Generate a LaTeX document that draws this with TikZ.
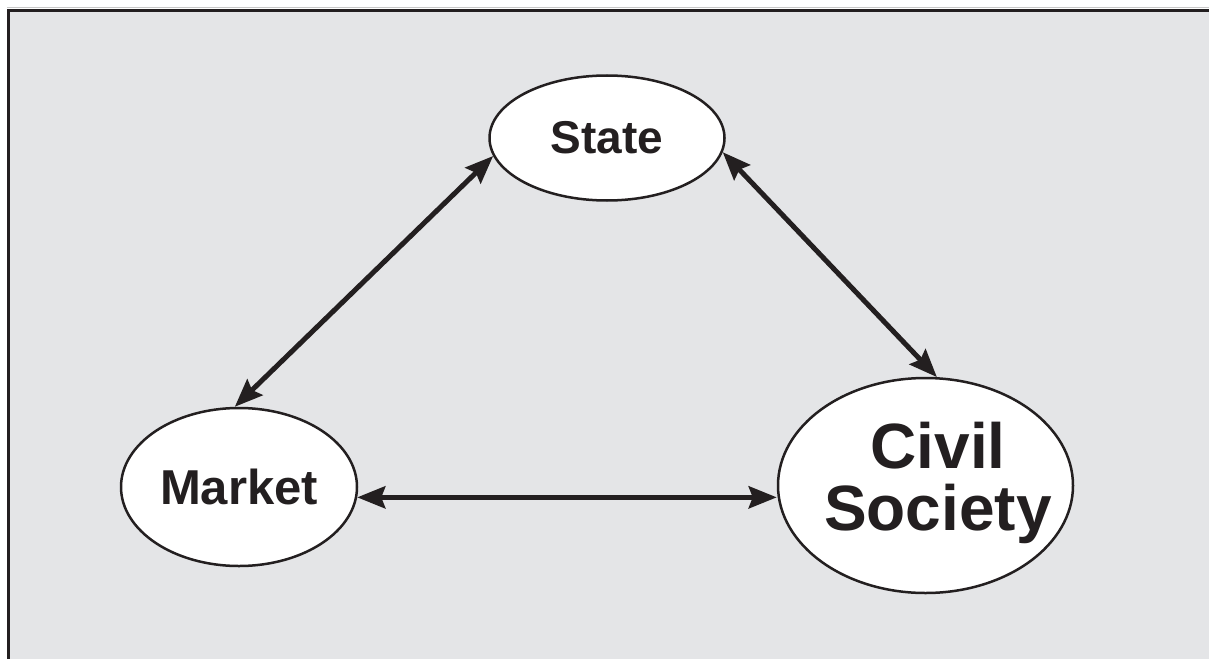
\documentclass[tikz,border=0pt]{standalone}
\usepackage{fontspec}
\setmainfont{Liberation Sans}
\usetikzlibrary{arrows.meta,shapes.geometric}
\definecolor{bg}{HTML}{E4E5E7}
\definecolor{ink}{HTML}{231F20}
\tikzset{
  bubble/.style={ellipse, draw=ink, line width=2.5pt, fill=white, inner sep=0pt, text=ink, font=\bfseries},
  link/.style={draw=ink, line width=5pt, {Stealth[length=28pt,width=22pt,inset=4pt]}-{Stealth[length=28pt,width=22pt,inset=4pt]}}
}
\begin{document}
\begin{tikzpicture}[x=1pt,y=-1pt]
  \useasboundingbox (0,0) rectangle (1209,658);
  \clip (0,0) rectangle (1209,658);
  \draw[line width=1pt, draw=black!22] (7,8) -- (1215,8);
  \draw[line width=3pt, draw=ink, fill=bg] (8.5,10.5) rectangle (1230,680);
  \node[bubble, minimum width=235pt, minimum height=125pt, font=\bfseries\fontsize{46}{46}\selectfont] (state) at (607,138) {State};
  \node[bubble, minimum width=236pt, minimum height=158pt, font=\bfseries\fontsize{49}{49}\selectfont] (market) at (239,487) {Market};
  \node[bubble, minimum width=295pt, minimum height=215pt] (civil) at (925.5,485.5) {};
  \node[align=center, text=ink, inner sep=0pt, font=\bfseries\fontsize{64}{62}\selectfont] (civiltext) at (938,483) {Civil\\Society};
  \draw[link] (state.189.5) -- (market.93);
  \draw[link] (state.-7) -- (civil.84);
  \draw[link] (market.-5) -- (market.-5 -| civil.west);
\end{tikzpicture}
\end{document}
